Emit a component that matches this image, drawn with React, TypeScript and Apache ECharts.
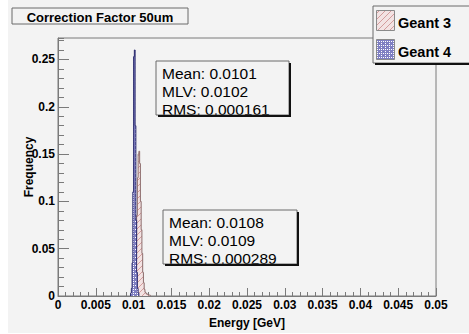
import React, { useEffect, useRef } from "react";
import * as echarts from "echarts";

// Histogram bins (lower edges, GeV) and normalised frequencies
const binWidth = 0.0001;

const g3BinLow = [
  0.01, 0.0101, 0.0102, 0.0103, 0.0104, 0.0105, 0.0106, 0.0107, 0.0108, 0.0109, 0.011,
  0.0111, 0.0112, 0.0113, 0.0114, 0.0115, 0.0116, 0.0117, 0.0118, 0.0119, 0.012, 0.0121,
];
const g3Freq = [
  0.004, 0.012, 0.03, 0.05, 0.085, 0.125, 0.15, 0.153, 0.14, 0.1, 0.07,
  0.045, 0.025, 0.014, 0.007, 0.004, 0.003, 0.002, 0.002, 0.001, 0.001, 0.001,
];

const g4BinLow = [0.0096, 0.0097, 0.0098, 0.0099, 0.01, 0.0101, 0.0102, 0.0103, 0.0104, 0.0105, 0.0106];
const g4Freq = [0.003, 0.008, 0.035, 0.11, 0.253, 0.26, 0.18, 0.08, 0.025, 0.008, 0.003];

const seriesNames = ["Geant 3", "Geant 4"];
const g4Stats = ["Mean: 0.0101", "MLV: 0.0102", "RMS: 0.000161"];
const g3Stats = ["Mean: 0.0108", "MLV: 0.0109", "RMS: 0.000289"];

const chartTitle = "Correction Factor 50um";
const xTitle = "Energy [GeV]";
const yTitle = "Frequency";

const X_MIN = 0;
const X_MAX = 0.05;
const Y_MAX = 0.2727;

const FONT = "'Liberation Sans', Arial, Helvetica, sans-serif";

function stepPoints(low: number[], freq: number[]): number[][] {
  const pts: number[][] = [[low[0], 0]];
  low.forEach((x, i) => pts.push([x, freq[i]]));
  pts.push([low[low.length - 1] + binWidth, 0]);
  return pts;
}

function hatchCanvas(): HTMLCanvasElement {
  const c = document.createElement("canvas");
  c.width = 6;
  c.height = 6;
  const ctx = c.getContext("2d")!;
  ctx.fillStyle = "#f3e3e3";
  ctx.fillRect(0, 0, 6, 6);
  ctx.strokeStyle = "#d39c9c";
  ctx.lineWidth = 1;
  ctx.beginPath();
  ctx.moveTo(0, 6);
  ctx.lineTo(6, 0);
  ctx.moveTo(-1, 1);
  ctx.lineTo(1, -1);
  ctx.moveTo(5, 7);
  ctx.lineTo(7, 5);
  ctx.stroke();
  return c;
}

function dotCanvas(): HTMLCanvasElement {
  const c = document.createElement("canvas");
  c.width = 4;
  c.height = 4;
  const ctx = c.getContext("2d")!;
  ctx.fillStyle = "#7f7fc2";
  ctx.fillRect(0, 0, 4, 4);
  ctx.fillStyle = "#ffffff";
  ctx.fillRect(1, 1, 1, 1);
  ctx.fillRect(3, 1, 1, 1);
  ctx.fillRect(1, 3, 1, 1);
  return c;
}

function statBox(x: number, y: number, w: number, h: number, lines: string[], tx: number) {
  const children: any[] = lines.map((t, i) => ({
    type: "text",
    x: tx,
    y: y + 12 + i * 18,
    style: {
      text: t,
      font: `15.5px ${FONT}`,
      fill: "#000",
      textVerticalAlign: "middle",
      textAlign: "left",
    },
  }));
  children.push({
    type: "rect",
    shape: { x: x, y: y, width: w, height: h },
    style: { fill: "none", stroke: "#6a6a6a", lineWidth: 1 },
  });
  children.push({
    type: "polyline",
    shape: { points: [[x + w + 1, y + 2], [x + w + 1, y + h + 1], [x + 2, y + h + 1]] },
    style: { stroke: "#111", lineWidth: 2, fill: "none" },
  });
  return { type: "group", z: 100, children };
}

export default function App() {
  const ref = useRef<HTMLDivElement>(null);

  useEffect(() => {
    if (!ref.current) return;
    const chart = echarts.init(ref.current, null, { renderer: "svg" });
    const hatch = { image: hatchCanvas(), repeat: "repeat", imageWidth: 6, imageHeight: 6 };
    const dots = { image: dotCanvas(), repeat: "repeat", imageWidth: 4, imageHeight: 4 };

    const axisGray = "#7a7a7a";
    const labelStyle = { color: "#000", fontFamily: FONT, fontWeight: "bold" as const, fontSize: 12 };

    chart.setOption({
      animation: false,
      backgroundColor: "#f3f3f3",
      grid: {
        left: 58,
        right: 33,
        top: 38,
        bottom: 31,
        show: true,
        borderColor: axisGray,
        borderWidth: 1,
        backgroundColor: "transparent",
      },
      xAxis: {
        type: "value",
        min: X_MIN,
        max: X_MAX,
        interval: 0.005,
        name: xTitle,
        nameLocation: "middle",
        nameGap: 21,
        nameMoveOverlap: false,
        nameTextStyle: { ...labelStyle },
        axisLine: { show: true, lineStyle: { color: axisGray } },
        axisTick: { show: true, inside: true, length: 8, lineStyle: { color: axisGray } },
        minorTick: { show: true, splitNumber: 5, length: 4, lineStyle: { color: axisGray } },
        splitLine: { show: false },
        axisLabel: { ...labelStyle, margin: 3 },
      },
      yAxis: [
        {
          type: "value",
          min: 0,
          max: Y_MAX,
          interval: 0.01,
          axisLine: { show: true, lineStyle: { color: axisGray } },
          axisTick: { show: true, inside: true, length: 6, lineStyle: { color: axisGray } },
          axisLabel: { show: false },
          splitLine: { show: false },
        },
        {
          type: "value",
          position: "left",
          offset: 0,
          min: 0,
          max: Y_MAX,
          interval: 0.05,
          name: yTitle,
          nameLocation: "middle",
          nameGap: 23,
          nameMoveOverlap: false,
          nameTextStyle: { ...labelStyle },
          axisLine: { show: false },
          axisTick: { show: true, inside: true, length: 11, lineStyle: { color: axisGray } },
          axisLabel: { ...labelStyle, margin: 3, showMaxLabel: false },
          splitLine: { show: false },
        },
      ],
      series: [
        {
          name: seriesNames[0],
          type: "line",
          yAxisIndex: 0,
          step: "end",
          symbol: "none",
          data: stepPoints(g3BinLow, g3Freq),
          lineStyle: { color: "#8c6c6c", width: 1 },
          areaStyle: { color: hatch, opacity: 1 },
          z: 2,
        },
        {
          name: seriesNames[1],
          type: "line",
          yAxisIndex: 0,
          step: "end",
          symbol: "none",
          data: stepPoints(g4BinLow, g4Freq),
          lineStyle: { color: "#2a2a6e", width: 1 },
          areaStyle: { color: dots, opacity: 1 },
          z: 3,
        },
      ],
      graphic: [
        // white page margins around the canvas
        { type: "rect", z: -10, shape: { x: 0, y: 0, width: 8, height: 334 }, style: { fill: "#fff" } },
        { type: "rect", z: -10, shape: { x: 0, y: 333, width: 469, height: 1 }, style: { fill: "#fff" } },
        // title box
        {
          type: "group",
          z: 100,
          children: [
            {
              type: "rect",
              shape: { x: 12, y: 8, width: 176, height: 16 },
              style: { fill: "none", stroke: "#6a6a6a", lineWidth: 1 },
            },
            {
              type: "text",
              x: 100,
              y: 17,
              style: {
                text: chartTitle,
                font: `bold 13px ${FONT}`,
                fill: "#000",
                textAlign: "center",
                textVerticalAlign: "middle",
              },
            },
          ],
        },
        // legend box
        {
          type: "group",
          z: 100,
          children: [
            {
              type: "rect",
              shape: { x: 373, y: 6, width: 100, height: 57 },
              style: { fill: "#f3f3f3", stroke: "#6a6a6a", lineWidth: 1 },
            },
            {
              type: "line",
              shape: { x1: 375, y1: 64, x2: 469, y2: 64 },
              style: { stroke: "#111", lineWidth: 2 },
            },
            {
              type: "rect",
              shape: { x: 376.5, y: 10.5, width: 18, height: 20 },
              style: { fill: hatch, stroke: "#8a8a8a", lineWidth: 1 },
            },
            {
              type: "rect",
              shape: { x: 376.5, y: 39.5, width: 18, height: 20 },
              style: { fill: dots, stroke: "#8a8a8a", lineWidth: 1 },
            },
            {
              type: "text",
              x: 398,
              y: 22.5,
              style: {
                text: seriesNames[0],
                font: `bold 14.5px ${FONT}`,
                fill: "#000",
                textVerticalAlign: "middle",
              },
            },
            {
              type: "text",
              x: 398,
              y: 51.5,
              style: {
                text: seriesNames[1],
                font: `bold 14.5px ${FONT}`,
                fill: "#000",
                textVerticalAlign: "middle",
              },
            },
          ],
        },
        statBox(156, 61, 133, 54, g4Stats, 162),
        statBox(163, 210, 134, 54, g3Stats, 169),
      ],
    });
    return () => chart.dispose();
  }, []);

  return (
    <div
      ref={ref}
      style={{ position: "absolute", left: 0, top: 0, width: 469, height: 334 }}
    />
  );
}
